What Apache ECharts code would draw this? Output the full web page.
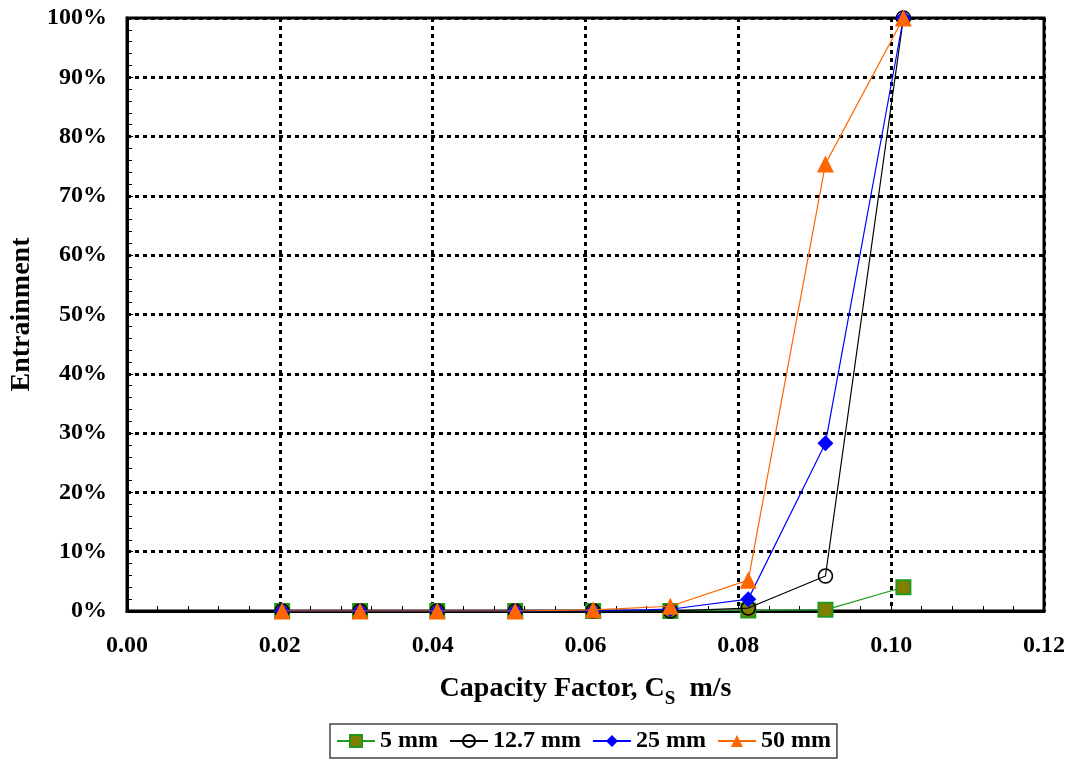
<!DOCTYPE html>
<html>
<head>
<meta charset="utf-8">
<script src="https://cdn.jsdelivr.net/npm/echarts@6/dist/echarts.min.js"></script>
<style>
  html, body { margin: 0; padding: 0; background: #fff; }
  #chart { width: 1068px; height: 761px; }
</style>
</head>
<body>
<div id="chart"></div>
<script>
// Capacity factor Cs (m/s) at each test point
const capacityFactor = [0.0203, 0.0305, 0.0406, 0.0508, 0.0610, 0.0711, 0.0813, 0.0914, 0.1016];

// Entrainment (%) for each packing size
const entrain5mm   = [0, 0, 0, 0, 0, 0, 0.1, 0.2, 4.0];
const entrain12_7mm = [0, 0, 0, 0, 0, 0, 0.5, 5.9, 100];
const entrain25mm  = [0, 0, 0, 0, 0, 0.3, 2.0, 28.3, 100];
const entrain50mm  = [0, 0, 0, 0, 0.2, 0.8, 5.2, 75.4, 100];

const seriesNames = ['5 mm', '12.7 mm', '25 mm', '50 mm'];
const xTicks = [0, 0.02, 0.04, 0.06, 0.08, 0.10, 0.12];

const pairs = ys => capacityFactor.map((x, i) => [x, ys[i]]);

const FONT = '"Liberation Serif", "Times New Roman", serif';

const chart = echarts.init(document.getElementById('chart'));

const gridLine = { show: true, lineStyle: { color: '#000', width: 3, type: [4, 4] } };

chart.setOption({
  backgroundColor: '#fff',
  animation: false,
  grid: {
    left: 127, right: 23, top: 18, bottom: 150,
    show: true, borderColor: '#000', borderWidth: 3, backgroundColor: 'transparent'
  },
  xAxis: {
    type: 'value',
    min: xTicks[0], max: xTicks[xTicks.length - 1], interval: 0.02,
    axisLine: { show: true, onZero: false, lineStyle: { color: '#000', width: 3 } },
    axisTick: { show: true, inside: true, length: 6, lineStyle: { color: '#000', width: 1 } },
    minorTick: { show: true, splitNumber: 5, length: 5, lineStyle: { color: '#000', width: 1 } },
    splitLine: gridLine,
    axisLabel: {
      formatter: v => v.toFixed(2), margin: 23,
      color: '#000', fontFamily: FONT, fontWeight: 'bold', fontSize: 24
    },
    name: '{a|Capacity Factor, C}{s|S}{a|  m/s}',
    nameLocation: 'middle', nameGap: 62,
    nameTextStyle: {
      color: '#000', fontFamily: FONT, fontWeight: 'bold',
      rich: {
        a: { fontFamily: FONT, fontWeight: 'bold', fontSize: 28, color: '#000', lineHeight: 30, verticalAlign: 'bottom' },
        s: { fontFamily: FONT, fontWeight: 'bold', fontSize: 19, color: '#000', lineHeight: 30, verticalAlign: 'bottom', padding: [0, 0, -6, 0] }
      }
    }
  },
  yAxis: {
    type: 'value',
    min: 0, max: 100, interval: 10,
    axisLine: { show: true, lineStyle: { color: '#000', width: 3 } },
    axisTick: { show: true, inside: true, length: 6, lineStyle: { color: '#000', width: 1 } },
    minorTick: { show: true, splitNumber: 5, length: 5, lineStyle: { color: '#000', width: 1 } },
    splitLine: gridLine,
    axisLabel: {
      formatter: '{value}%', margin: 20,
      color: '#000', fontFamily: FONT, fontWeight: 'bold', fontSize: 24
    },
    name: 'Entrainment',
    nameLocation: 'middle', nameGap: 91, nameRotate: 90,
    nameTextStyle: { color: '#000', fontFamily: FONT, fontWeight: 'bold', fontSize: 28 }
  },
  legend: {
    data: seriesNames,
    left: 330, top: 724,
    padding: [5, 6],
    borderColor: '#444', borderWidth: 1.5,
    itemWidth: 38, itemHeight: 15, itemGap: 11,
    textStyle: { color: '#000', fontFamily: FONT, fontWeight: 'bold', fontSize: 24 }
  },
  series: [
    {
      name: seriesNames[0], type: 'line', data: pairs(entrain5mm),
      symbol: 'rect', symbolSize: 14,
      lineStyle: { color: '#1f9a1f', width: 1.2 },
      itemStyle: { color: '#808000', borderColor: '#1f9a1f', borderWidth: 2 },
      z: 2
    },
    {
      name: seriesNames[1], type: 'line', data: pairs(entrain12_7mm),
      symbol: 'circle', symbolSize: 14,
      lineStyle: { color: '#000', width: 1.2 },
      itemStyle: { color: 'rgba(255,255,255,0)', borderColor: '#000', borderWidth: 1.6 },
      z: 3
    },
    {
      name: seriesNames[2], type: 'line', data: pairs(entrain25mm),
      symbol: 'diamond', symbolSize: 16,
      lineStyle: { color: '#0000ff', width: 1.2 },
      itemStyle: { color: '#0000ff', borderWidth: 0 },
      z: 4
    },
    {
      name: seriesNames[3], type: 'line', data: pairs(entrain50mm),
      symbol: 'triangle', symbolSize: 17,
      lineStyle: { color: '#ff6600', width: 1.2 },
      itemStyle: { color: '#ff6600', borderWidth: 0 },
      z: 5
    }
  ]
});
</script>
</body>
</html>
